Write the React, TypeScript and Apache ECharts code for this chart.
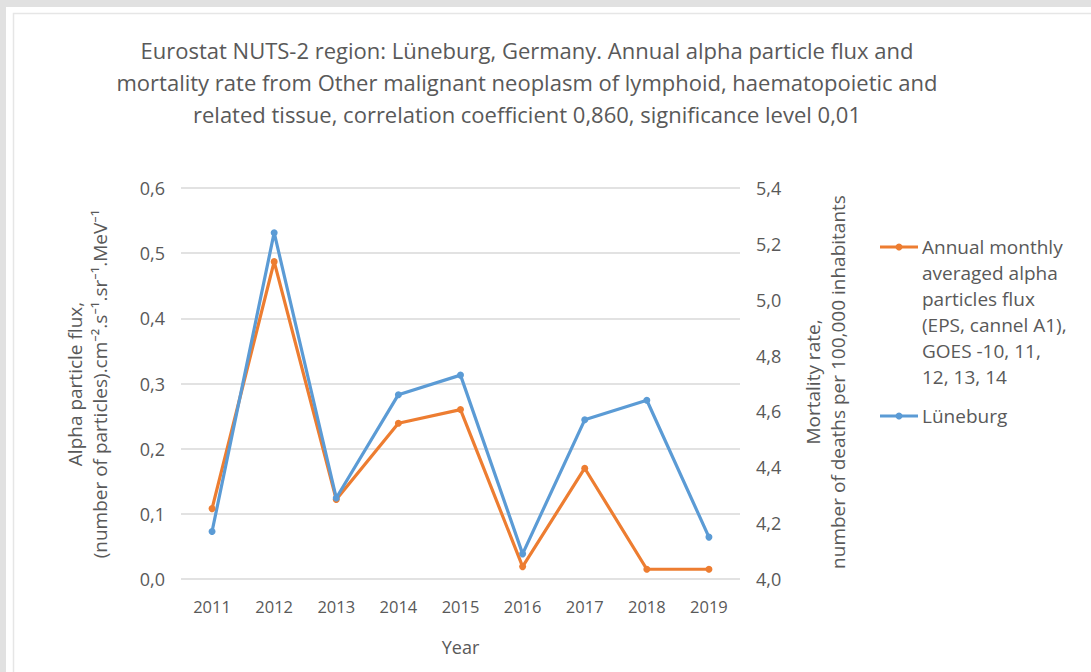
import React, { useEffect, useRef } from "react";
import * as echarts from "echarts";

const years = ["2011", "2012", "2013", "2014", "2015", "2016", "2017", "2018", "2019"];
const alphaFlux = [0.108, 0.487, 0.122, 0.239, 0.26, 0.019, 0.17, 0.015, 0.015];
const mortality = [4.17, 5.24, 4.29, 4.66, 4.73, 4.09, 4.57, 4.64, 4.15];
const fluxName = "Annual monthly averaged alpha particles flux (EPS, cannel A1), GOES -10, 11, 12, 13, 14";
const mortalityName = "Lüneburg";
const fluxLegendLines = [
  "Annual monthly",
  "averaged alpha",
  "particles flux",
  "(EPS, cannel A1),",
  "GOES -10, 11,",
  "12, 13, 14",
];
const titleLines = [
  "Eurostat NUTS-2 region: Lüneburg, Germany. Annual alpha particle flux and",
  "mortality rate from Other malignant neoplasm of lymphoid, haematopoietic and",
  "related tissue, correlation coefficient 0,860, significance level 0,01",
];
const leftAxisName = ["Alpha particle flux,", "(number of particles).cm⁻².s⁻¹.sr⁻¹.MeV⁻¹"];
const rightAxisName = ["Mortality rate,", "number of deaths per 100,000 inhabitants"];
const xAxisName = "Year";

const ORANGE = "#ED7D31";
const BLUE = "#5B9BD5";
const TXT = "#595959";
const FONT = "'Open Sans', 'Noto Sans', sans-serif";

export default function App() {
  const ref = useRef<HTMLDivElement>(null);
  useEffect(() => {
    if (!ref.current) return;
    const chart = echarts.init(ref.current, null, { renderer: "svg" });
    const legendEntry = (y0: number, color: string) => [
      { type: "line", shape: { x1: 880, y1: y0, x2: 918, y2: y0 }, style: { stroke: color, lineWidth: 3 } },
      { type: "circle", shape: { cx: 899, cy: y0, r: 3.5 }, style: { fill: color } },
    ];
    const tickFmt = (v: number) => v.toFixed(1).replace(".", ",");
    chart.setOption({
      animation: false,
      backgroundColor: "#e1e1e1",
      textStyle: { fontFamily: FONT },
      title: {
        text: titleLines.join("\n"),
        left: 527,
        top: 34,
        padding: 0,
        textAlign: "center",
        textStyle: { fontFamily: FONT, fontSize: 22, fontWeight: "normal", color: TXT, lineHeight: 32 },
      },
      grid: { left: 181, right: 351, top: 188, bottom: 93, containLabel: false },
      xAxis: {
        type: "category",
        data: years,
        boundaryGap: true,
        axisLine: { show: false },
        axisTick: { show: false },
        axisLabel: { color: TXT, fontSize: 16.5, fontFamily: FONT, margin: 19 },
        name: xAxisName,
        nameLocation: "middle",
        nameGap: 59,
        nameTextStyle: { color: TXT, fontSize: 18, fontFamily: FONT },
      },
      yAxis: [
        {
          type: "value",
          min: 0,
          max: 0.6,
          interval: 0.1,
          axisLine: { show: false },
          axisTick: { show: false },
          splitLine: { lineStyle: { color: "#d9d9d9", width: 1.5 } },
          axisLabel: { color: TXT, fontSize: 18, fontFamily: FONT, margin: 16, formatter: tickFmt },
        },
        {
          type: "value",
          min: 4,
          max: 5.4,
          interval: 0.2,
          axisLine: { show: false },
          axisTick: { show: false },
          splitLine: { show: false },
          axisLabel: { color: TXT, fontSize: 18, fontFamily: FONT, margin: 16, formatter: tickFmt },
        },
      ],
      series: [
        {
          name: fluxName,
          type: "line",
          yAxisIndex: 0,
          data: alphaFlux,
          symbol: "circle",
          symbolSize: 7,
          lineStyle: { color: ORANGE, width: 3.2 },
          itemStyle: { color: ORANGE },
        },
        {
          name: mortalityName,
          type: "line",
          yAxisIndex: 1,
          data: mortality,
          symbol: "circle",
          symbolSize: 7,
          lineStyle: { color: BLUE, width: 3.2 },
          itemStyle: { color: BLUE },
        },
      ],
      graphic: [
        { type: "rect", z: -10, shape: { x: 6, y: 7, width: 1085, height: 665 }, style: { fill: "#ffffff" } },
        {
          type: "rect",
          z: -9,
          shape: { x: 13.5, y: 13.5, width: 1100, height: 700 },
          style: { fill: "#ffffff", stroke: "#e6e6e6", lineWidth: 1.5 },
        },
        {
          type: "text",
          x: 87,
          y: 384,
          rotation: Math.PI / 2,
          style: {
            text: leftAxisName.join("\n"),
            fill: TXT,
            font: `19px ${FONT}`,
            lineHeight: 25,
            textAlign: "center",
            textVerticalAlign: "middle",
          },
        },
        {
          type: "text",
          x: 825,
          y: 382,
          rotation: Math.PI / 2,
          style: {
            text: rightAxisName.join("\n"),
            fill: TXT,
            font: `19px ${FONT}`,
            lineHeight: 25,
            textAlign: "center",
            textVerticalAlign: "middle",
          },
        },
        ...legendEntry(247, ORANGE),
        {
          type: "text",
          x: 922,
          y: 247 - 13,
          style: {
            text: fluxLegendLines.join("\n"),
            fill: TXT,
            font: `19px ${FONT}`,
            lineHeight: 26,
            textAlign: "left",
            textVerticalAlign: "top",
          },
        },
        ...legendEntry(416, BLUE),
        {
          type: "text",
          x: 922,
          y: 416,
          style: {
            text: mortalityName,
            fill: TXT,
            font: `19px ${FONT}`,
            textAlign: "left",
            textVerticalAlign: "middle",
          },
        },
      ],
    });
    return () => chart.dispose();
  }, []);
  return <div ref={ref} style={{ position: "fixed", left: 0, top: 0, width: 1091, height: 672 }} />;
}
